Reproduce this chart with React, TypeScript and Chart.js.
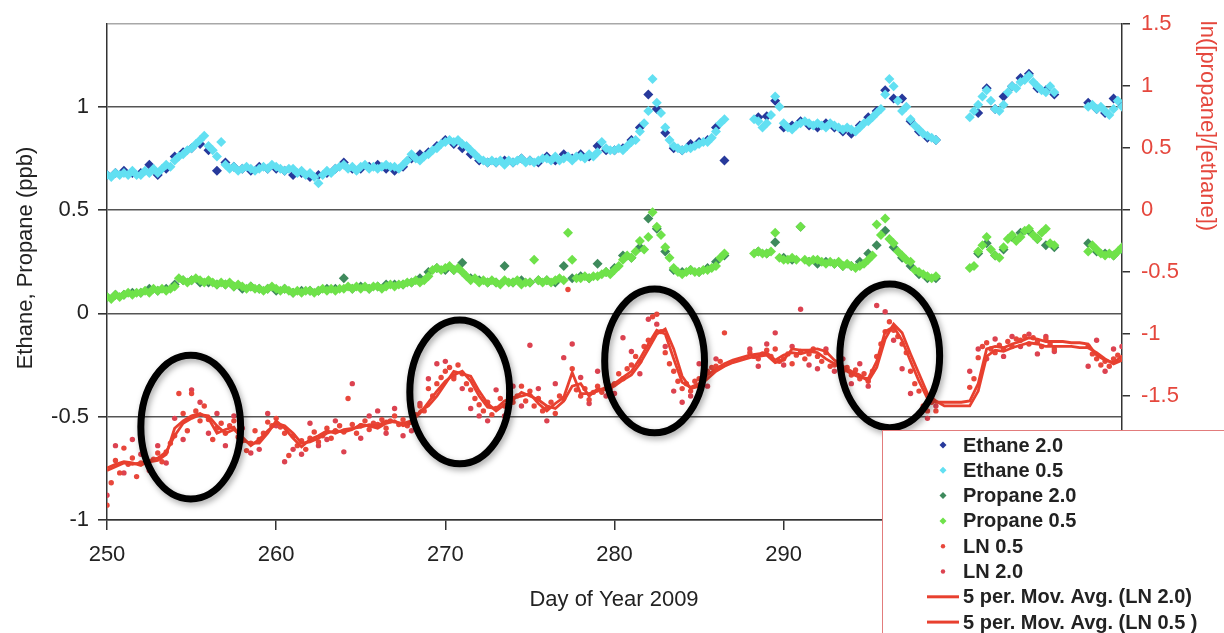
import React, { useEffect, useRef } from "react";
import { Chart, registerables } from "chart.js";

Chart.register(...registerables);

const FONT = '"Liberation Sans", Arial, Helvetica, sans-serif';

// ---- axes ----
const FIRST_DAY = 250;
const FINE_STEP = 0.25;
const COARSE_STEP = 0.5;
const DAY_MIN = 250;
const DAY_MAX = 310;
const DAY_TICKS = [250, 260, 270, 280, 290, 300, 310];
const LEFT_MIN = -1;
const LEFT_MAX = 1.4;
const LEFT_TICKS = [-1, -0.5, 0, 0.5, 1];
const RIGHT_MIN = -2.5;
const RIGHT_MAX = 1.5;
const RIGHT_TICKS = [-2.5, -2, -1.5, -1, -0.5, 0, 0.5, 1, 1.5];

const X_TITLE = "Day of Year 2009";
const LEFT_TITLE = "Ethane, Propane (ppb)";
const RIGHT_TITLE = "ln([propane]/[ethane])";

const LABELS = [
  "Ethane 2.0",
  "Ethane 0.5",
  "Propane 2.0",
  "Propane 0.5",
  "LN 0.5",
  "LN 2.0",
  "5 per. Mov. Avg. (LN 2.0)",
  "5 per. Mov. Avg. (LN 0.5 )",
];

// ---- series (first value at day 250) ----
// Ethane 0.5 (ppb), every 0.25 day
const ETHANE_05: (number | null)[] = [
  .67, .66, .68, .67, .68, .67, .69, .67, .67, .69, .68, .70, .68, .70, .72, .71,
  .74, .76, .77, .79, .80, .82, .84, .86, .81, .79, .76, .83, .72, .70, .71, .69,
  .70, .71, .70, .69, .70, .71, .70, .72, .71, .70, .69, .70, .70, .68, .69, .67,
  .68, .66, .63, .67, .69, .68, .70, .71, .72, .70, .71, .69, .71, .72, .70, .71,
  .70, .71, .72, .71, .71, .70, .72, .74, .77, .75, .74, .76, .77, .79, .80, .82,
  .83, .84, .83, .84, .82, .81, .79, .77, .75, .74, .73, .74, .73, .74, .72, .74,
  .73, .74, .75, .73, .74, .73, .74, .75, .75, .74, .76, .74, .75, .76, .74, .76,
  .76, .75, .77, .76, .78, .83, .80, .79, .79, .80, .79, .81, .83, .84, .88, .92,
  .98, 1.135, 1.02, .97, .90, .84, .81, .80, .79, .80, .80, .81, .82, .83, .83, .85,
  .88, .92, .94, null, null, null, null, null, null, .94, .93, .90, .92, .96, 1.05, 1.0,
  .92, .90, .89, .91, .92, .93, .92, .91, .92, .91, .90, .92, .91, .90, .89, .90,
  .89, .88, .90, .92, .93, .95, .97, .99, 1.06, 1.135, 1.10, 1.03, .98, 1.0, .94, .91,
  .89, .87, .86, .85, .84, null, null, null, null, null, null, null, .95, .98, 1.01, 1.05,
  1.08, 1.03, .99, .98, 1.01, 1.07, 1.10, 1.09, 1.12, 1.13, 1.15, 1.12, 1.10, 1.08, 1.07, 1.10,
  1.07, null, null, null, null, null, null, null, 1.00, 1.01, .99, 1.0, .98, .96, .99, 1.03,
  1.0,
];

// Ethane 2.0 (ppb), every 0.5 day
const ETHANE_20: (number | null)[] = [
  .67, .68, .69, .68, .68, .72, .67, .70, .76, .78, .80, .82, .79, .69, .73, .71,
  .70, .69, .71, .70, .70, .69, .67, .68, .66, .67, .68, .70, .73, .70, .70, .71,
  .72, .70, .69, .71, .75, .77, .78, .81, .84, .82, .80, .77, .74, .73, .73, .74,
  .73, .75, .74, .73, .76, .74, .77, .75, .77, .76, .81, .79, .79, .80, .84, .90,
  1.06, .99, .875, .80, .79, .82, .83, .84, .90, .74, null, null, null, .95, .955, 1.03,
  .90, .91, .93, .91, .90, .92, .90, .88, .87, .91, .95, .98, 1.08, 1.04, 1.04, .93,
  .88, .85, .84, null, null, null, null, .97, 1.09, .99, 1.05, 1.10, 1.14, 1.16, 1.09, 1.08,
  1.06, null, null, null, 1.02, .99, .97, 1.04, 1.01,
];

// Propane 0.5 (ppb), every 0.25 day
const PROPANE_05: (number | null)[] = [
  .08, .07, .09, .08, .09, .10, .09, .10, .10, .11, .10, .12, .11, .12, .11, .12,
  .13, .17, .16, .15, .16, .17, .16, .15, .16, .15, .14, .15, .14, .15, .13, .14,
  .13, .12, .13, .12, .12, .11, .12, .13, .12, .11, .12, .11, .10, .11, .10, .11,
  .11, .10, .11, .12, .11, .12, .11, .12, .12, .13, .12, .13, .12, .13, .12, .13,
  .13, .12, .13, .14, .13, .14, .14, .15, .15, .16, .15, .16, .18, .21, .22, .21,
  .22, .23, .21, .22, .20, .18, .16, .17, .15, .16, .15, .16, .15, .14, .16, .15,
  .15, .16, .14, .15, .15, .26, .16, .15, .16, .15, .16, .17, .16, .39, .26, .17,
  .17, .18, .17, .18, .18, .19, .20, .19, .21, .23, .26, .28, .27, .30, .35, .31,
  .37, .49, .42, .38, .32, .27, .22, .20, .19, .20, .21, .20, .20, .21, .21, .22,
  .23, .27, .29, null, null, null, null, null, null, .29, .30, .29, .29, .30, .39, .27,
  .26, .26, .27, .26, .42, .26, .25, .26, .26, .25, .24, .25, .24, .25, .23, .24,
  .23, .22, .23, .24, .26, .28, .43, .38, .46, .36, .34, .30, .28, .26, .25, .21,
  .20, .19, .18, .17, .18, null, null, null, null, null, null, null, .22, .23, .30, .33,
  .37, .31, .28, .27, .32, .36, .38, .35, .37, .40, .41, .38, .36, .39, .41, .34,
  .33, null, null, null, null, null, null, null, .30, .33, .31, .29, .28, .29, .28, .30,
  .32,
];

// Propane 2.0 (ppb), every 0.5 day
const PROPANE_20: (number | null)[] = [
  .08, .09, .09, .10, .10, .12, .11, .12, .14, .16, .16, .15, .15, .14, .14, .13,
  .12, .13, .12, .12, .11, .12, .10, .11, .11, .11, .12, .12, .17, .12, .13, .12,
  .13, .14, .14, .14, .15, .17, .20, .22, .21, .21, .245, .17, .16, .15, .15, .23,
  .15, .16, .15, .16, .16, .15, .23, .17, .18, .17, .24, .20, .22, .28, .27, .32,
  .46, .41, .30, .21, .20, .21, .20, .22, .25, .28, null, null, null, .30, .29, .345,
  .27, .26, .42, .25, .24, .25, .24, .23, .23, .25, .29, .33, .40, .32, .27, .23,
  .19, .17, .17, null, null, null, null, .29, .34, .28, .31, .37, .39, .40, .36, .33,
  .32, null, null, null, .34, .30, .29, .28, .31,
];

// ln([propane]/[ethane]) 0.5, every 0.25 day
const LN_05: (number | null)[] = [
  -2.38, -2.20, -2.02, -2.12, -1.92, -2.05, -2.00, -2.15, -2.04, -1.98, -2.08, -2.01, -1.96, -2.03, -1.95, -1.88,
  -1.82, -1.48, -1.64, -1.78, -1.48, -1.62, -1.70, -1.58, -1.69, -1.85, -1.76, -1.72, -1.80, -1.74, -1.70, -1.83,
  -1.86, -1.94, -1.88, -1.78, -1.85, -1.80, -1.71, -1.74, -1.68, -1.75, -1.80, -1.98, -1.82, -1.90, -1.86, -1.93,
  -1.84, -1.79, -1.87, -1.82, -1.76, -1.84, -1.78, -1.74, -1.79, -1.52, -1.73, -1.80, -1.74, -1.70, -1.77, -1.72,
  -1.73, -1.69, -1.76, -1.70, -1.66, -1.73, -1.69, -1.74, -1.71, -1.65, -1.58, -1.62, -1.44, -1.50, -1.40, -1.35,
  -1.30, -1.27, -1.36, -1.25, -1.32, -1.40, -1.45, -1.52, -1.57, -1.62, -1.55, -1.65, -1.60, -1.52, -1.58, -1.48,
  -1.55, -1.50, -1.42, -1.54, -1.46, -1.58, -1.52, -1.62, -1.60, -1.55, -1.64, -1.50, -1.52, -0.64, -1.28, -1.45,
  -1.50, -1.44, -1.53, -1.47, -1.42, -1.47, -1.38, -1.44, -1.40, -1.32, -1.36, -1.28, -1.25, -1.18, -1.22, -1.10,
  -1.05, -0.86, -0.84, -0.98, -1.15, -1.24, -1.30, -1.38, -1.44, -1.40, -1.46, -1.38, -1.36, -1.32, -1.30, -1.27,
  -1.26, -1.22, -0.99, null, null, null, null, null, -1.15, -1.18, -1.20, -1.16, -1.13, -1.18, -1.12, -1.22,
  -1.20, -1.16, -1.24, -1.17, -1.14, -1.20, -1.16, -1.12, -1.18, -1.22, -1.15, -1.26, -1.25, -1.22, -1.30, -1.27,
  -1.33, -1.29, -1.36, -1.32, -1.38, -1.30, -1.18, -1.08, -0.98, -0.90, -0.97, -1.02, -1.08, -1.15, -1.30, -1.40,
  -1.46, -1.58, -1.62, -1.55, -1.62, null, null, null, null, null, null, null, -1.43, -1.36, -1.19, -1.10,
  -1.07, -1.12, -1.15, -1.09, -1.12, -1.06, -1.10, -1.04, -1.05, -1.02, -1.08, -1.03, -1.06, -1.10, -1.04, -1.08,
  -1.12, null, null, null, null, null, null, null, -1.10, -1.16, -1.20, -1.25, -1.22, -1.26, -1.20, -1.17,
  -1.19,
];

// ln([propane]/[ethane]) 2.0, every 0.5 day
const LN_20: (number | null)[] = [
  -2.30, -1.90, -2.12, -1.85, -1.97, -2.10, -1.90, -2.04, -1.68, -1.85, -1.45, -1.55, -1.80, -1.64, -1.90, -1.66,
  -1.76, -1.96, -1.93, -1.64, -1.74, -2.03, -1.93, -1.97, -1.72, -1.90, -1.85, -1.70, -1.95, -1.40, -1.84, -1.66,
  -1.62, -1.80, -1.60, -1.82, -1.78, -1.56, -1.36, -1.24, -1.22, -1.34, -1.44, -1.60, -1.66, -1.70, -1.45, -1.66,
  -1.42, -1.58, -1.09, -1.44, -1.70, -1.40, -1.19, -1.08, -1.35, -1.56, -1.30, -1.50, -1.48, -1.03, -1.14, -1.32,
  -0.88, -0.92, -1.10, -1.46, -1.55, -1.50, -1.24, -1.42, -1.20, null, null, null, -1.12, -1.26, -1.08, -0.99,
  -1.25, -1.10, -0.80, -1.25, -1.28, -1.12, -1.30, -1.20, -1.40, -1.24, -1.42, -0.77, -0.82, -1.05, -1.28, -1.48,
  -1.64, -1.68, -1.58, null, null, null, -1.30, -1.12, -1.20, -1.04, -1.18, -1.02, -1.10, -1.00, -1.16, -1.02,
  -1.14, null, null, null, -1.26, -1.05, -1.30, -1.12, -1.10,
];

// 5-period moving averages, every 0.5 day
const MA_LN_20: number[] = [
  -2.10, -2.07, -2.04, -2.05, -2.04, -2.03, -2.02, -1.97, -1.76, -1.70, -1.66, -1.64, -1.68, -1.80, -1.77, -1.75,
  -1.86, -1.88, -1.88, -1.80, -1.70, -1.76, -1.84, -1.91, -1.85, -1.82, -1.78, -1.80, -1.77, -1.76, -1.75, -1.73,
  -1.74, -1.70, -1.71, -1.72, -1.70, -1.64, -1.55, -1.46, -1.38, -1.33, -1.30, -1.38, -1.50, -1.59, -1.60, -1.54,
  -1.51, -1.50, -1.48, -1.56, -1.62, -1.56, -1.51, -1.31, -1.48, -1.48, -1.46, -1.43, -1.40, -1.35, -1.30, -1.20,
  -1.08, -0.97, -1.00, -1.20, -1.39, -1.43, -1.40, -1.33, -1.28, -1.24, -1.21, -1.19, -1.17, -1.16, -1.15, -1.21,
  -1.17, -1.15, -1.16, -1.14, -1.15, -1.20, -1.24, -1.28, -1.32, -1.35, -1.36, -1.22, -0.98, -0.94, -1.05, -1.22,
  -1.38, -1.52, -1.55, -1.55, -1.55, -1.55, -1.54, -1.40, -1.12, -1.10, -1.11, -1.08, -1.06, -1.03, -1.04, -1.06,
  -1.06, -1.06, -1.07, -1.07, -1.08, -1.17, -1.21, -1.23, -1.18,
];

const MA_LN_05: number[] = [
  -2.08, -2.05, -2.03, -2.04, -2.06, -2.02, -2.00, -1.95, -1.82, -1.72, -1.68, -1.65, -1.66, -1.74, -1.80, -1.77,
  -1.83, -1.90, -1.85, -1.78, -1.72, -1.74, -1.80, -1.88, -1.87, -1.84, -1.80, -1.78, -1.79, -1.77, -1.73, -1.74,
  -1.76, -1.72, -1.70, -1.74, -1.72, -1.62, -1.58, -1.50, -1.40, -1.30, -1.32, -1.34, -1.46, -1.56, -1.62, -1.57,
  -1.53, -1.47, -1.50, -1.53, -1.58, -1.60, -1.54, -1.42, -1.40, -1.50, -1.44, -1.45, -1.42, -1.37, -1.33, -1.24,
  -1.12, -1.00, -0.96, -1.12, -1.34, -1.44, -1.42, -1.36, -1.30, -1.26, -1.23, -1.21, -1.19, -1.18, -1.17, -1.23,
  -1.21, -1.12, -1.13, -1.13, -1.12, -1.14, -1.21, -1.26, -1.30, -1.33, -1.38, -1.27, -1.04, -0.92, -0.99, -1.16,
  -1.32, -1.48, -1.54, -1.58, -1.58, -1.58, -1.58, -1.46, -1.18, -1.13, -1.14, -1.11, -1.09, -1.07, -1.08, -1.10,
  -1.10, -1.10, -1.10, -1.11, -1.11, -1.15, -1.20, -1.24, -1.21,
];

// ---- highlight ellipses (day, left-axis level, half-width in days, half-height in ppb) ----
const HIGHLIGHT_DAYS = [254.95, 270.85, 282.37, 296.27];
const HIGHLIGHT_LEVELS = [-0.55, -0.38, -0.23, -0.205];
const HIGHLIGHT_HALF_DAYS = 2.95;
const HIGHLIGHT_HALF_LEVEL = 0.348;

const COLORS = {
  eth20: "#27399b",
  eth05: "#62e0f2",
  pro20: "#3e8a5c",
  pro05: "#6fe24a",
  ln05: "#e8473b",
  ln20: "#dc4250",
  ma: "#e8402f",
  axis: "#333333",
  grid: "#555555",
  top: "#a8a8a8",
  text: "#222222",
  red: "#e5473d",
};

const toPoints = (vals: (number | null)[], step: number) => {
  const pts: { x: number; y: number }[] = [];
  vals.forEach((v, i) => {
    if (v !== null) pts.push({ x: FIRST_DAY + i * step, y: v });
  });
  return pts;
};

const highlightPlugin = {
  id: "highlights",
  afterDatasetsDraw(chart: any) {
    const { ctx, scales } = chart;
    const xs = scales.x;
    const ys = scales.y;
    ctx.save();
    ctx.strokeStyle = "#000";
    ctx.lineWidth = 7;
    ctx.shadowColor = "rgba(0,0,0,0.35)";
    ctx.shadowBlur = 6;
    ctx.shadowOffsetX = 2;
    ctx.shadowOffsetY = 3;
    HIGHLIGHT_DAYS.forEach((d, i) => {
      const cx = xs.getPixelForValue(d);
      const cy = ys.getPixelForValue(HIGHLIGHT_LEVELS[i]);
      const rx = Math.abs(xs.getPixelForValue(d + HIGHLIGHT_HALF_DAYS) - cx);
      const ry = Math.abs(ys.getPixelForValue(HIGHLIGHT_LEVELS[i] + HIGHLIGHT_HALF_LEVEL) - cy);
      ctx.beginPath();
      ctx.ellipse(cx, cy, rx, ry, 0, 0, Math.PI * 2);
      ctx.stroke();
    });
    ctx.restore();
  },
};

const titlePlugin = {
  id: "axisTitles",
  afterDraw(chart: any) {
    const { ctx } = chart;
    ctx.save();
    ctx.font = `22px ${FONT}`;
    ctx.textAlign = "center";
    ctx.textBaseline = "middle";
    ctx.fillStyle = COLORS.text;
    ctx.fillText(X_TITLE, 614, 600);
    ctx.save();
    ctx.translate(26, 258);
    ctx.rotate(-Math.PI / 2);
    ctx.fillText(LEFT_TITLE, 0, 0);
    ctx.restore();
    ctx.save();
    ctx.fillStyle = COLORS.red;
    ctx.translate(1207, 126);
    ctx.rotate(Math.PI / 2);
    ctx.fillText(RIGHT_TITLE, 0, 0);
    ctx.restore();
    ctx.restore();
  },
};

const legendPlugin = {
  id: "boxLegend",
  afterDraw(chart: any) {
    const { ctx } = chart;
    const left = 882;
    const top = 430;
    ctx.save();
    ctx.fillStyle = "#ffffff";
    ctx.fillRect(left, top, chart.width - left, chart.height - top);
    ctx.strokeStyle = "#e27c7c";
    ctx.lineWidth = 1;
    ctx.strokeRect(left + 0.5, top + 0.5, chart.width, chart.height);
    ctx.font = `bold 20px ${FONT}`;
    ctx.textBaseline = "middle";
    ctx.textAlign = "left";
    const mx = 943;
    chart.data.datasets.forEach((ds: any, i: number) => {
      const y = 445 + i * 25.3;
      if (ds.showLine) {
        ctx.strokeStyle = ds.borderColor;
        ctx.lineWidth = 3;
        ctx.beginPath();
        ctx.moveTo(927, y);
        ctx.lineTo(959, y);
        ctx.stroke();
      } else if (ds.pointStyle === "rectRot") {
        ctx.fillStyle = ds.backgroundColor;
        ctx.beginPath();
        ctx.moveTo(mx, y - 3.5);
        ctx.lineTo(mx + 3.5, y);
        ctx.lineTo(mx, y + 3.5);
        ctx.lineTo(mx - 3.5, y);
        ctx.closePath();
        ctx.fill();
      } else {
        ctx.fillStyle = ds.backgroundColor;
        ctx.beginPath();
        ctx.arc(mx, y, 2.2, 0, Math.PI * 2);
        ctx.fill();
      }
      ctx.fillStyle = COLORS.text;
      ctx.fillText(ds.label, 963, y + 1);
    });
    ctx.restore();
  },
};

export default function App() {
  const canvasRef = useRef<HTMLCanvasElement | null>(null);

  useEffect(() => {
    document.body.style.margin = "0";
    const canvas = canvasRef.current;
    if (!canvas) return;

    const diamond = (label: string, data: any[], color: string, order: number) => ({
      label,
      data,
      yAxisID: "y",
      pointStyle: "rectRot",
      pointRadius: 5,
      backgroundColor: color,
      borderColor: color,
      borderWidth: 0,
      showLine: false,
      order,
    });
    const dots = (label: string, data: any[], color: string, order: number) => ({
      label,
      data,
      yAxisID: "y2",
      pointStyle: "circle",
      pointRadius: 2.7,
      backgroundColor: color,
      borderColor: color,
      borderWidth: 0,
      showLine: false,
      order,
    });
    const avg = (label: string, data: any[], order: number) => ({
      label,
      data,
      yAxisID: "y2",
      showLine: true,
      pointRadius: 0,
      borderColor: COLORS.ma,
      backgroundColor: COLORS.ma,
      borderWidth: 2.8,
      tension: 0,
      fill: false,
      order,
    });

    const chart = new Chart(canvas, {
      type: "scatter",
      data: {
        datasets: [
          diamond(LABELS[0], toPoints(ETHANE_20, COARSE_STEP), COLORS.eth20, 5),
          diamond(LABELS[1], toPoints(ETHANE_05, FINE_STEP), COLORS.eth05, 4),
          diamond(LABELS[2], toPoints(PROPANE_20, COARSE_STEP), COLORS.pro20, 7),
          diamond(LABELS[3], toPoints(PROPANE_05, FINE_STEP), COLORS.pro05, 6),
          dots(LABELS[4], toPoints(LN_05, FINE_STEP), COLORS.ln05, 2),
          dots(LABELS[5], toPoints(LN_20, COARSE_STEP), COLORS.ln20, 3),
          avg(LABELS[6], toPoints(MA_LN_20, COARSE_STEP), 0),
          avg(LABELS[7], toPoints(MA_LN_05, COARSE_STEP), 1),
        ] as any,
      },
      options: {
        responsive: false,
        animation: false,
        devicePixelRatio: 1,
        layout: { padding: { top: 22, left: 0, right: 0, bottom: 0 } },
        plugins: {
          legend: { display: false },
          tooltip: { enabled: false },
          title: { display: false },
        },
        scales: {
          x: {
            type: "linear",
            position: "bottom",
            min: DAY_MIN,
            max: DAY_MAX,
            afterBuildTicks: (s: any) => {
              s.ticks = DAY_TICKS.map((value) => ({ value }));
            },
            afterFit: (s: any) => {
              s.height = 113;
            },
            grid: {
              drawOnChartArea: false,
              drawTicks: true,
              tickLength: 10,
              color: COLORS.axis,
              lineWidth: 1.5,
            },
            border: { display: true, color: COLORS.axis, width: 1.5 },
            ticks: {
              color: COLORS.text,
              font: { family: FONT, size: 22 },
              padding: 12,
              maxRotation: 0,
              autoSkip: false,
              callback: (v: any) => String(v),
            },
          },
          y: {
            type: "linear",
            position: "left",
            min: LEFT_MIN,
            max: LEFT_MAX,
            afterBuildTicks: (s: any) => {
              s.ticks = [...LEFT_TICKS, LEFT_MAX].map((value) => ({ value }));
            },
            afterFit: (s: any) => {
              s.width = 107;
            },
            grid: {
              drawTicks: true,
              tickLength: 9,
              color: (c: any) => (c.tick && c.tick.value === LEFT_MAX ? COLORS.top : COLORS.grid),
              tickColor: (c: any) =>
                c.tick && c.tick.value === LEFT_MAX ? "rgba(0,0,0,0)" : COLORS.axis,
              lineWidth: 1.6,
            },
            border: { display: true, color: COLORS.axis, width: 1.5 },
            ticks: {
              color: COLORS.text,
              font: { family: FONT, size: 22 },
              padding: 9,
              autoSkip: false,
              callback: (v: any) => (LEFT_TICKS.includes(v) ? String(v) : ""),
            },
          },
          y2: {
            type: "linear",
            position: "right",
            min: RIGHT_MIN,
            max: RIGHT_MAX,
            afterBuildTicks: (s: any) => {
              s.ticks = RIGHT_TICKS.map((value) => ({ value }));
            },
            afterFit: (s: any) => {
              s.width = 102;
            },
            grid: {
              drawOnChartArea: false,
              drawTicks: true,
              tickLength: 8,
              color: COLORS.axis,
              lineWidth: 1.5,
            },
            border: { display: true, color: COLORS.axis, width: 1.5 },
            ticks: {
              color: COLORS.red,
              font: { family: FONT, size: 22 },
              padding: 11,
              autoSkip: false,
              callback: (v: any) => String(v),
            },
          },
        },
      } as any,
      plugins: [highlightPlugin, titlePlugin, legendPlugin],
    });

    return () => chart.destroy();
  }, []);

  return (
    <div style={{ width: 1224, height: 633, background: "#fff" }}>
      <canvas ref={canvasRef} width={1224} height={633} style={{ display: "block" }} />
    </div>
  );
}
